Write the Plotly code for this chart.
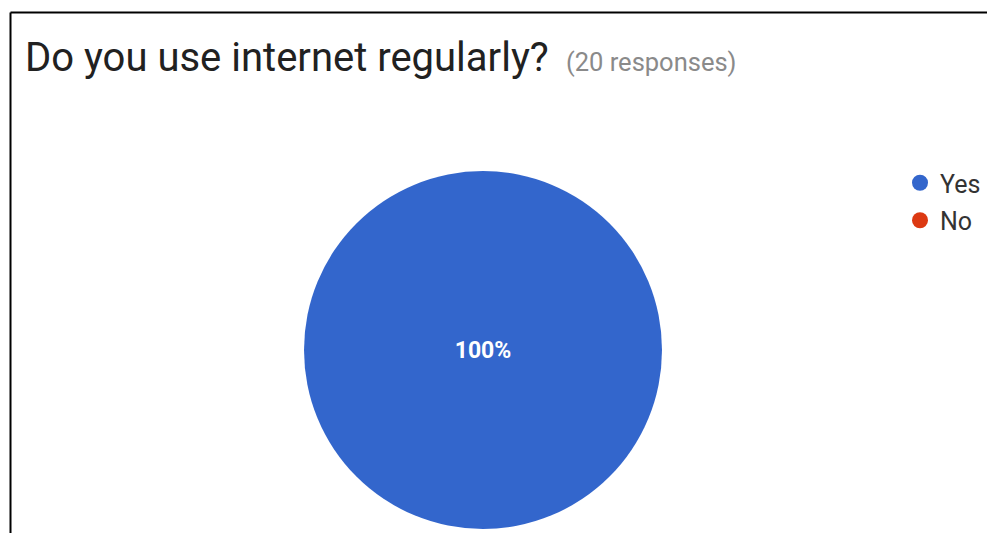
import plotly.graph_objects as go

labels = ["Yes", "No"]
values = [20, 0]
colors = ["#3366CC", "#DC3912"]
title_main = "Do you use internet regularly?"
title_sub = "(20 responses)"

W, H = 987, 533


def px(x):
    return x / W


def py(y):
    return 1 - y / H


fig = go.Figure()

fig.add_trace(go.Pie(
    labels=labels, values=values, sort=False, direction="clockwise",
    marker=dict(colors=colors, line=dict(color="white", width=0)),
    texttemplate="%{percent:.0%}",
    textposition="inside", insidetextorientation="horizontal",
    textfont=dict(family="Roboto", size=23, color="white", weight="bold"),
    showlegend=False, hoverinfo="label+percent",
    domain=dict(x=[px(304), px(662)], y=[py(529), py(171)]),
))

for lab, col in zip(labels, colors):
    fig.add_trace(go.Scatter(
        x=[None], y=[None], mode="markers", name=lab,
        marker=dict(symbol="circle", size=24, color=col),
        legendgroup=lab,
    ))

fig.update_layout(
    width=W, height=H,
    margin=dict(l=0, r=0, t=0, b=0, autoexpand=False),
    paper_bgcolor="white", plot_bgcolor="white",
    xaxis=dict(visible=False), yaxis=dict(visible=False),
    legend=dict(x=px(900), y=py(160), xanchor="left", yanchor="top",
                font=dict(family="Roboto", size=25, color="#333333"),
                tracegroupgap=2, itemsizing="trace",
                bgcolor="rgba(0,0,0,0)"),
    annotations=[
        dict(text=title_main, x=px(23), y=py(58), xref="paper", yref="paper",
             xanchor="left", yanchor="middle", showarrow=False,
             font=dict(family="Roboto", size=40, color="#212121")),
        dict(text=title_sub, x=px(564), y=py(61.5), xref="paper", yref="paper",
             xanchor="left", yanchor="middle", showarrow=False,
             font=dict(family="Roboto", size=25.5, color="#8a8a8a")),
    ],
    shapes=[
        dict(type="line", xref="paper", yref="paper", x0=px(10.5), x1=1.02,
             y0=py(12.5), y1=py(12.5), line=dict(color="black", width=2)),
        dict(type="line", xref="paper", yref="paper", x0=px(10.5), x1=px(10.5),
             y0=-0.02, y1=py(12.5), line=dict(color="black", width=2)),
    ],
)

fig.write_html(
    "out.html",
    config={"displayModeBar": False},
    post_script="document.body.style.margin='0';document.body.style.overflow='hidden';",
)
